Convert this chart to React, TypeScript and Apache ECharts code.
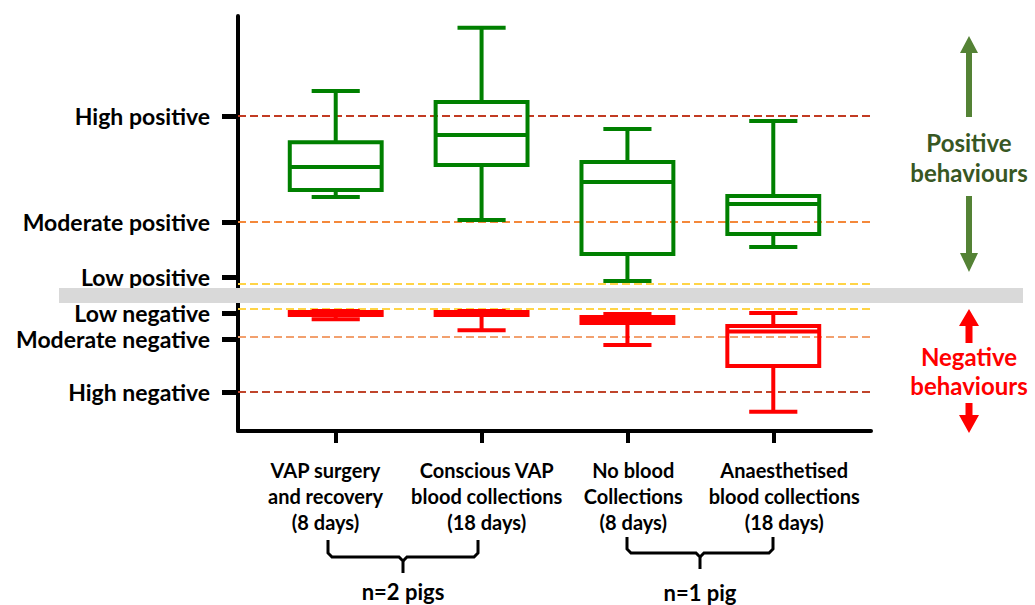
import React, { useEffect, useRef } from 'react';
import * as echarts from 'echarts';

// ---- data ----
const categories = [
  'VAP surgery\nand recovery\n(8 days)',
  'Conscious VAP\nblood collections\n(18 days)',
  'No blood\nCollections\n(8 days)',
  'Anaesthetised\nblood collections\n(18 days)',
];
const categoryTicks = [0, 1, 2, 3];
const categoryLabelSpots = [-0.07, 1.035, 2.04, 3.075];

const positiveLevels = ['Low positive', 'Moderate positive', 'High positive'];
const positiveTickValues = [5.5, 25.4, 63.8];
const positiveLineValues = [2.9, 25.4, 63.8];
const positiveLineColors = ['#ffd447', '#f4883a', '#c23b22'];

const negativeLevels = ['Low negative', 'Moderate negative', 'High negative'];
const negativeTickValues = [-5, -14.9, -35.1];
const negativeLineValues = [-3.4, -14.1, -35.1];
const negativeLineColors = ['#ffd447', '#f2a06e', '#c0452b'];

// [min, q1, median, q3, max]
const positiveScores = [
  [34.4, 37.0, 45.3, 54.3, 72.8],
  [26.1, 46.0, 56.9, 68.8, 95.7],
  [4.0, 13.8, 39.9, 47.1, 59.1],
  [16.3, 21.0, 31.9, 34.8, 62.0],
];
const negativeScores = [
  [-7.3, -5.7, -5.0, -4.6, -4.2],
  [-11.5, -5.7, -5.0, -4.6, -4.2],
  [-17.2, -8.8, -7.6, -6.5, -5.3],
  [-42.7, -25.2, -12.0, -9.9, -5.0],
];

const FONT = 'Lato, "Noto Sans", sans-serif';

const makeBoxRenderer = (color: string) => (params: any, api: any) => {
  const x = api.value(0);
  const band = api.size([1, 0])[0];
  const half = band * 0.315;
  const capHalf = band * 0.165;
  const pMin = api.coord([x, api.value(1)]);
  const cx = pMin[0];
  const yMin = pMin[1];
  const yQ1 = api.coord([x, api.value(2)])[1];
  const yMed = api.coord([x, api.value(3)])[1];
  const yQ3 = api.coord([x, api.value(4)])[1];
  const yMax = api.coord([x, api.value(5)])[1];
  const style = { stroke: color, lineWidth: 4, fill: 'none' };
  return {
    type: 'group',
    children: [
      { type: 'line', shape: { x1: cx, y1: yMax, x2: cx, y2: yQ3 }, style },
      { type: 'line', shape: { x1: cx, y1: yQ1, x2: cx, y2: yMin }, style },
      { type: 'line', shape: { x1: cx - capHalf, y1: yMax, x2: cx + capHalf, y2: yMax }, style },
      { type: 'line', shape: { x1: cx - capHalf, y1: yMin, x2: cx + capHalf, y2: yMin }, style },
      { type: 'rect', shape: { x: cx - half, y: yQ3, width: half * 2, height: yQ1 - yQ3 }, style },
      { type: 'line', shape: { x1: cx - half, y1: yMed, x2: cx + half, y2: yMed }, style },
    ],
  };
};

const levelAxis = (ticks: number[], names: string[], min: number, max: number, gridIndex: number) => ({
  type: 'value',
  gridIndex,
  min,
  max,
  splitLine: { show: false },
  axisLine: { show: true, onZero: false, lineStyle: { color: '#000', width: 4 } },
  axisTick: { show: true, customValues: ticks, length: 16, lineStyle: { color: '#000', width: 5 } },
  axisLabel: {
    customValues: ticks,
    margin: 28,
    color: '#000',
    fontSize: 23,
    fontWeight: 'bold',
    fontFamily: FONT,
    formatter: (v: number) => {
      const i = ticks.findIndex((t) => Math.abs(t - v) < 1e-6);
      return i >= 0 ? names[i] : '';
    },
  },
});

const refLines = (values: number[], colors: string[]) => ({
  silent: true,
  symbol: 'none',
  label: { show: false },
  data: values.map((v, i) => ({ yAxis: v, lineStyle: { color: colors[i], type: [8, 4], width: 2, opacity: 1 } })),
});

export default function App() {
  const ref = useRef<HTMLDivElement>(null);
  useEffect(() => {
    const chart = echarts.init(ref.current!, null, { renderer: 'svg' });
    const brace = (l: number, r: number, top: number, mid: number, bottom: number) => {
      const c = (l + r) / 2;
      return [
        { type: 'polyline', shape: { points: [[l, top], [l, mid - 4], [l + 4, mid], [c - 4, mid], [c, mid + 4], [c, bottom]] }, style: { stroke: '#000', lineWidth: 3, fill: 'none' } },
        { type: 'polyline', shape: { points: [[r, top], [r, mid - 4], [r - 4, mid], [c + 4, mid], [c, mid + 4]] }, style: { stroke: '#000', lineWidth: 3, fill: 'none' } },
      ];
    };
    const sideText = (text: string, y: number, fill: string) => ({
      type: 'text', z: 100, x: 969, y,
      style: { text, fill, fontSize: 24, fontWeight: 'bold', fontFamily: FONT, align: 'center', verticalAlign: 'middle' },
    });
    const option: any = {
      animation: false,
      grid: [
        { left: 238, right: 164, top: 16, height: 276 },
        { left: 238, right: 164, top: 300, height: 131 },
      ],
      xAxis: [
        { type: 'value', gridIndex: 0, min: -0.67, max: 3.67, show: false },
        {
          type: 'value',
          gridIndex: 1,
          min: -0.67,
          max: 3.67,
          splitLine: { show: false },
          axisLine: { show: true, onZero: false, lineStyle: { color: '#000', width: 4 } },
          axisTick: { show: true, customValues: categoryTicks, length: 12, lineStyle: { color: '#000', width: 4 } },
          axisLabel: {
            customValues: categoryLabelSpots,
            margin: 26,
            color: '#000',
            fontSize: 20,
            lineHeight: 26,
            fontWeight: 'bold',
            fontFamily: FONT,
            formatter: (v: number) => categories[Math.round(v)] ?? '',
          },
        },
      ],
      yAxis: [
        levelAxis(positiveTickValues, positiveLevels, 0, 100, 0),
        levelAxis(negativeTickValues, negativeLevels, -50, 0, 1),
      ],
      series: [
        {
          type: 'line', xAxisIndex: 0, yAxisIndex: 0, data: [], silent: true,
          markLine: refLines(positiveLineValues, positiveLineColors),
        },
        {
          type: 'line', xAxisIndex: 1, yAxisIndex: 1, data: [], silent: true,
          markLine: refLines(negativeLineValues, negativeLineColors),
        },
        {
          type: 'custom', name: 'Positive behaviours', xAxisIndex: 0, yAxisIndex: 0, z: 5,
          renderItem: makeBoxRenderer('#008000'),
          encode: { x: 0, y: [1, 2, 3, 4, 5] },
          data: positiveScores.map((s, i) => [i, ...s]),
        },
        {
          type: 'custom', name: 'Negative behaviours', xAxisIndex: 1, yAxisIndex: 1, z: 5,
          renderItem: makeBoxRenderer('#ff0000'),
          encode: { x: 0, y: [1, 2, 3, 4, 5] },
          data: negativeScores.map((s, i) => [i, ...s]),
        },
      ],
      graphic: [
        { type: 'rect', z: 100, shape: { x: 59, y: 288, width: 964, height: 15 }, style: { fill: '#d9d9d9' } },
        // green arrows
        { type: 'polygon', z: 100, shape: { points: [[969, 36], [978, 53], [972, 53], [972, 117], [966, 117], [966, 53], [960, 53]] }, style: { fill: '#548235' } },
        { type: 'polygon', z: 100, shape: { points: [[966, 196], [972, 196], [972, 253], [978, 253], [969, 272], [960, 253], [966, 253]] }, style: { fill: '#548235' } },
        sideText('Positive', 142, '#385723'),
        sideText('behaviours', 172, '#385723'),
        // red arrows
        { type: 'polygon', z: 100, shape: { points: [[969, 309], [979, 326], [972.5, 326], [972.5, 343], [965.5, 343], [965.5, 326], [959, 326]] }, style: { fill: '#ff0000' } },
        { type: 'polygon', z: 100, shape: { points: [[965.5, 403], [972.5, 403], [972.5, 415], [979, 415], [969, 433], [959, 415], [965.5, 415]] }, style: { fill: '#ff0000' } },
        sideText('Negative', 356, '#ff0000'),
        sideText('behaviours', 385, '#ff0000'),
        // braces
        ...brace(328, 478, 540, 557, 573),
        ...brace(627, 773, 537, 553, 569),
        { type: 'text', x: 403, y: 591, style: { text: 'n=2 pigs', fill: '#000', fontSize: 22, fontWeight: 'bold', fontFamily: FONT, align: 'center', verticalAlign: 'middle' } },
        { type: 'text', x: 700, y: 592, style: { text: 'n=1 pig', fill: '#000', fontSize: 22, fontWeight: 'bold', fontFamily: FONT, align: 'center', verticalAlign: 'middle' } },
      ],
    };
    chart.setOption(option);
    return () => chart.dispose();
  }, []);
  return <div ref={ref} style={{ position: 'fixed', left: 0, top: 0, width: 1035, height: 605, background: '#fff' }} />;
}
